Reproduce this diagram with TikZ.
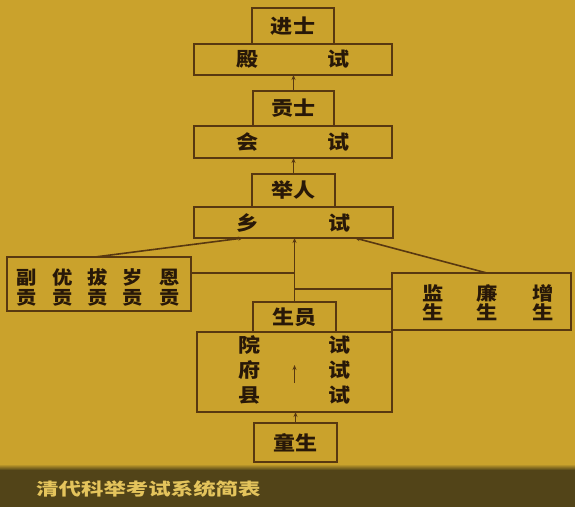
\documentclass[tikz,border=0pt]{standalone}
\usepackage{fontspec}
\newfontfamily\cjk{Noto Sans CJK SC}
\usetikzlibrary{calc,arrows.meta}
\definecolor{bg}{RGB}{202,162,44}
\definecolor{ln}{RGB}{88,56,16}
\definecolor{tx}{RGB}{40,24,8}
\definecolor{band}{RGB}{82,68,24}
\definecolor{cap}{RGB}{228,196,92}
\newcommand{\zh}[2][1.13]{\scalebox{#1}[1]{#2}}
\begin{document}
\begin{tikzpicture}[x=1pt,y=-1pt,
  box/.style={draw=ln, line width=1.6pt, inner sep=0pt, outer sep=0pt, text=tx,
    font=\cjk\bfseries\fontsize{19.5}{20}\selectfont},
  lbl/.style={inner sep=0pt, text=tx, align=center},
  conn/.style={draw=ln, line width=1.6pt},
  arr/.style={conn, -{Stealth[length=5pt,width=4pt]}}]
\fill[bg] (0,0) rectangle (575,507);
\useasboundingbox (0,0) rectangle (575,507);
\fill[band] (0,469) rectangle (575,507);
\shade[top color=bg, bottom color=band] (0,464) rectangle (575,470);

% boxes
\node[box, minimum width=82pt, minimum height=36pt] (jinshi) at (293,26) {\zh{进士}};
\node[box, minimum width=198pt, minimum height=31pt] (dianshi) at (293,59.5) {\zh{殿}\hspace{69pt}\zh{试}};
\node[box, minimum width=81pt, minimum height=35pt] (gongshi) at (293.5,108.5) {\zh{贡士}};
\node[box, minimum width=198pt, minimum height=32pt] (huishi) at (293,142) {\zh{会}\hspace{69pt}\zh{试}};
\node[box, minimum width=83pt, minimum height=33pt] (juren) at (293.5,190.5) {\zh{举人}};
\node[box, minimum width=199pt, minimum height=31pt] (xiangshi) at (293.5,222.5) {\zh{乡}\hspace{70pt}\zh{试}};
\node[box, minimum width=184pt, minimum height=54pt] (lbox) at (99,284) {};
\node[box, minimum width=179pt, minimum height=57pt] (rbox) at (481.5,301.5) {};
\node[box, minimum width=83pt, minimum height=30pt] (shengyuan) at (294.5,317) {\zh{生员}};
\node[box, minimum width=195pt, minimum height=80pt] (xianshi) at (294.5,372) {};
\node[box, minimum width=83pt, minimum height=39pt] (tongsheng) at (295.5,442.5) {\zh{童生}};

% side box texts
\begin{scope}[every node/.style={lbl, font=\cjk\bfseries\fontsize{18.5}{19.5}\selectfont}]
\node (l1) at (27,287.5) {\zh[1.1]{副}\\\zh[1.1]{贡}};
\node (l2) at (63,287.5) {\zh[1.1]{优}\\\zh[1.1]{贡}};
\node (l3) at (98,287.5) {\zh[1.1]{拔}\\\zh[1.1]{贡}};
\node (l4) at (133,287.5) {\zh[1.1]{岁}\\\zh[1.1]{贡}};
\node (l5) at (170,287.5) {\zh[1.1]{恩}\\\zh[1.1]{贡}};
\node (r1) at (433,302.5) {\zh[1.15]{监}\\\zh[1.15]{生}};
\node (r2) at (487,302.5) {\zh[1.15]{廉}\\\zh[1.15]{生}};
\node (r3) at (543,302.5) {\zh[1.15]{增}\\\zh[1.15]{生}};
\end{scope}
\begin{scope}[every node/.style={lbl, font=\cjk\bfseries\fontsize{19.5}{25}\selectfont}]
\node (yuan) at (250,370) {\zh{院}\\\zh{府}\\\zh{县}};
\node (shi3) at (340,370) {\zh{试}\\\zh{试}\\\zh{试}};
\end{scope}

% caption
\node[inner sep=0pt, anchor=west, text=cap, font=\cjk\bfseries\fontsize{17}{17}\selectfont] (caption) at (36,489) {\zh[1.32]{清代科举考试系统简表}};

% connectors
\draw[arr] (gongshi.north) -- (gongshi.north |- dianshi.south);
\draw[arr] (juren.north) -- (juren.north |- huishi.south);
\draw[arr] (shengyuan.north) -- (shengyuan.north |- xiangshi.south);
\draw[arr] ($(lbox.north west)!0.478!(lbox.north east)$) -- ($(xiangshi.south west)!0.247!(xiangshi.south east)$);
\draw[arr] ($(rbox.north west)!0.53!(rbox.north east)$) -- ($(xiangshi.south west)!0.809!(xiangshi.south east)$);
\coordinate (jl) at ($(shengyuan.north)+(0,-29)$);
\coordinate (jr) at ($(shengyuan.north)+(0,-13)$);
\draw[conn] (lbox.east |- jl) -- (jl);
\draw[conn] (jr) -- (rbox.west |- jr);
\coordinate (ia) at ($(xianshi.center)+(0,11)$);
\coordinate (ib) at ($(xianshi.center)+(0,-7)$);
\draw[arr] (ia) -- (ib);
\draw[arr] (tongsheng.north) -- (tongsheng.north |- xianshi.south);
\end{tikzpicture}
\end{document}
